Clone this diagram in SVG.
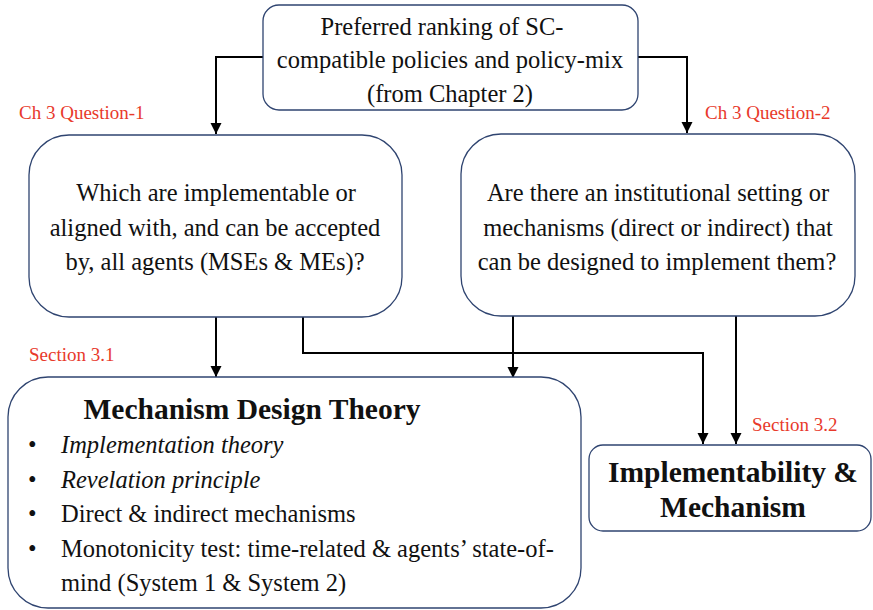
<svg xmlns="http://www.w3.org/2000/svg" width="873" height="610" viewBox="0 0 873 610">
  <style>
    .box { fill: #ffffff; stroke: #2f4470; stroke-width: 1.3; }
    .t { font-family: "Liberation Serif", "Times New Roman", serif; font-size: 24.5px; fill: #111; }
    .c { text-anchor: middle; }
    .b { font-weight: bold; font-size: 29.5px; }
    .i { font-style: italic; }
    .red { font-family: "Liberation Serif", "Times New Roman", serif; font-size: 19px; fill: #e8392b; }
    .wire { fill: none; stroke: #000; stroke-width: 2; }
  </style>
  <defs>
    <marker id="arrow" viewBox="0 0 10 10" refX="10" refY="5" markerWidth="5.5" markerHeight="6" markerUnits="strokeWidth" orient="auto">
      <path d="M0,0 L10,5 L0,10 Z" fill="#000"/>
    </marker>
  </defs>
  <rect width="873" height="610" fill="#ffffff"/>

  <!-- connectors -->
  <g id="connectors">
    <path class="wire" d="M263,57 H216 V134" marker-end="url(#arrow)"/>
    <path class="wire" d="M638,57 H687 V133" marker-end="url(#arrow)"/>
    <path class="wire" d="M216,317 V377" marker-end="url(#arrow)"/>
    <path class="wire" d="M303,317 V353 H703 V444" marker-end="url(#arrow)"/>
    <path class="wire" d="M513,316 V378" marker-end="url(#arrow)"/>
    <path class="wire" d="M736,316 V444" marker-end="url(#arrow)"/>
  </g>

  <!-- labels -->
  <g id="labels">
    <text class="red" x="19" y="119">Ch 3 Question-1</text>
    <text class="red" x="705" y="119">Ch 3 Question-2</text>
    <text class="red" x="29" y="361">Section 3.1</text>
    <text class="red" x="752" y="431">Section 3.2</text>
  </g>

  <g id="ranking">
    <rect class="box" x="263" y="5" width="375" height="105" rx="16"/>
    <text class="t c" x="442" y="35">Preferred ranking of SC-</text>
    <text class="t c" x="450" y="68">compatible policies and policy-mix</text>
    <text class="t c" x="450" y="102">(from Chapter 2)</text>
  </g>

  <g id="question1">
    <rect class="box" x="29" y="135" width="373" height="182" rx="40"/>
    <text class="t c" x="216" y="201">Which are implementable or</text>
    <text class="t c" x="215" y="236">aligned with, and can be accepted</text>
    <text class="t c" x="215" y="270">by, all agents (MSEs &amp; MEs)?</text>
  </g>

  <g id="question2">
    <rect class="box" x="461" y="134" width="394" height="182" rx="40"/>
    <text class="t c" x="658" y="201">Are there an institutional setting or</text>
    <text class="t c" x="658" y="236">mechanisms (direct or indirect) that</text>
    <text class="t c" x="657" y="270">can be designed to implement them?</text>
  </g>

  <g id="mechanism-design">
    <rect class="box" x="8" y="377" width="573" height="231" rx="40"/>
    <text class="t b c" x="252" y="419">Mechanism Design Theory</text>
    <g class="t">
      <text x="28" y="453">•</text><text class="i" x="61" y="453">Implementation theory</text>
      <text x="28" y="488">•</text><text class="i" x="61" y="488">Revelation principle</text>
      <text x="28" y="522">•</text><text x="61" y="522">Direct &amp; indirect mechanisms</text>
      <text x="28" y="557">•</text><text x="61" y="557">Monotonicity test: time-related &amp; agents’ state-of-</text>
      <text x="61" y="591">mind (System 1 &amp; System 2)</text>
    </g>
  </g>

  <g id="implementability">
    <rect class="box" x="589" y="445" width="282" height="86" rx="14"/>
    <text class="t b c" x="733" y="482">Implementability &amp;</text>
    <text class="t b c" x="733" y="517">Mechanism</text>
  </g>
</svg>
